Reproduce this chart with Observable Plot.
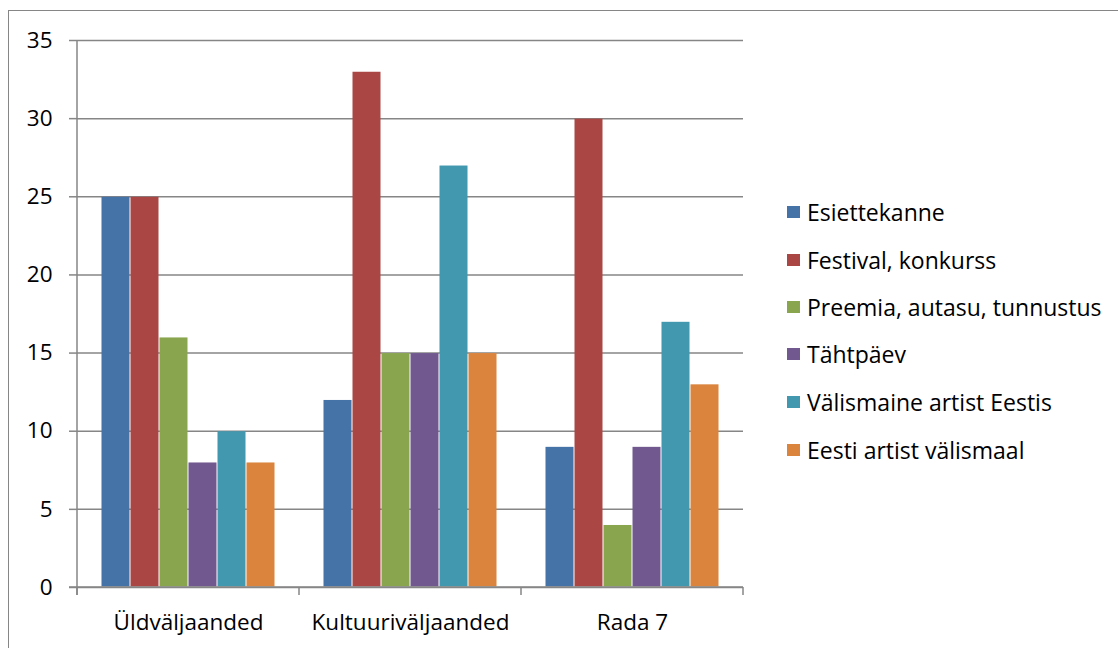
<!DOCTYPE html>
<html><head><meta charset="utf-8">
<script src="https://cdn.jsdelivr.net/npm/d3@7"></script>
<script src="https://cdn.jsdelivr.net/npm/@observablehq/plot@0.6"></script>
<style>
body{margin:0;background:#fff;font-family:"Open Sans",sans-serif}
#wrap{position:relative;width:1118px;height:648px;overflow:hidden;background:#fff}
#frame{position:absolute;z-index:2;left:8px;top:10px;width:1200px;height:700px;border-left:1.5px solid #868686;border-top:1.5px solid #868686;pointer-events:none}
#chart{position:absolute;left:0;top:0}
#legend{position:absolute;left:787px;top:0}
.item{position:absolute;left:0;display:flex;align-items:center;white-space:nowrap;font-size:23px;color:#000;height:30px;line-height:30px}
.sw{width:12.5px;height:12.5px;margin-right:7.5px;flex:none}
</style></head>
<body>
<div id="wrap"><div id="chart"></div><div id="legend"></div><div id="frame"></div></div>
<script>
const categories = ["Üldväljaanded", "Kultuuriväljaanded", "Rada 7"];
const seriesNames = ["Esiettekanne", "Festival, konkurss", "Preemia, autasu, tunnustus", "Tähtpäev", "Välismaine artist Eestis", "Eesti artist välismaal"];
const colors = ["#4572A7", "#AA4643", "#89A54E", "#71588F", "#4198AF", "#DB843D"];
const esiettekanne = [25, 12, 9];
const festival = [25, 33, 30];
const preemia = [16, 15, 4];
const tahtpaev = [8, 15, 9];
const valismaine = [10, 27, 17];
const eestiArtist = [8, 15, 13];
const yTicks = [0, 5, 10, 15, 20, 25, 30, 35];

const seriesValues = [esiettekanne, festival, preemia, tahtpaev, valismaine, eestiArtist];
const data = [];
categories.forEach((c, ci) => seriesNames.forEach((s, si) => data.push({category: c, series: s, value: seriesValues[si][ci]})));

const chart = Plot.plot({
  width: 760, height: 648,
  marginLeft: 77, marginRight: 17, marginTop: 40, marginBottom: 61,
  style: {fontFamily: "'Open Sans', sans-serif", background: "transparent"},
  fx: {domain: categories, padding: 0},
  x: {domain: seriesNames, paddingInner: 0, paddingOuter: 0.72, axis: null},
  y: {domain: [0, 35]},
  color: {domain: seriesNames, range: colors},
  marks: [
    Plot.gridY(yTicks, {stroke: "#868686", strokeOpacity: 1, strokeWidth: 1.5}),
    Plot.axisY(yTicks, {tickSize: 8, tickPadding: 17, fontSize: 22.5, stroke: "#868686", strokeWidth: 1.5, fill: "#000", label: null}),
    Plot.axisFx({anchor: "bottom", tickSize: 0, tickPadding: 27, fontSize: 22.5, fill: "#000", label: null}),
    Plot.barY(data, {fx: "category", x: "series", y: "value", fill: "series", inset: 0.5, style: "filter: drop-shadow(1.5px 0px 1.5px rgba(0,0,0,0.25))"})
  ]
});
document.getElementById("chart").appendChild(chart);

// Axis line and category boundary ticks, positioned from Plot's own scales
const fxS = chart.scale("fx"), yS = chart.scale("y");
const fxBand = d3.scaleBand().domain(fxS.domain).range(fxS.range).padding(0);
const yLin = d3.scaleLinear().domain(yS.domain).range(yS.range);
const svg = d3.select(chart.tagName.toLowerCase() === "svg" ? chart : chart.querySelector("svg"));
const g = svg.append("g").attr("stroke", "#868686").attr("stroke-width", 1.5);
const edges = fxS.domain.map(d => fxBand(d)).concat([fxBand(fxS.domain[fxS.domain.length - 1]) + fxBand.bandwidth()]);
g.append("line").attr("x1", edges[0]).attr("x2", edges[0]).attr("y1", yLin(35)).attr("y2", yLin(0) + 8);
g.append("line").attr("x1", edges[0] - 8).attr("x2", edges[edges.length - 1]).attr("y1", yLin(0)).attr("y2", yLin(0));
edges.forEach(x => g.append("line").attr("x1", x).attr("x2", x).attr("y1", yLin(0)).attr("y2", yLin(0) + 8));

// Legend
const legend = document.getElementById("legend");
const legendTops = [212, 260, 307, 354, 402, 450];
seriesNames.forEach((s, i) => {
  const it = document.createElement("div");
  it.className = "item";
  it.style.top = (legendTops[i] - 15) + "px";
  it.innerHTML = `<span class="sw" style="background:${colors[i]}"></span><span>${s}</span>`;
  legend.appendChild(it);
});
</script>
</body></html>
